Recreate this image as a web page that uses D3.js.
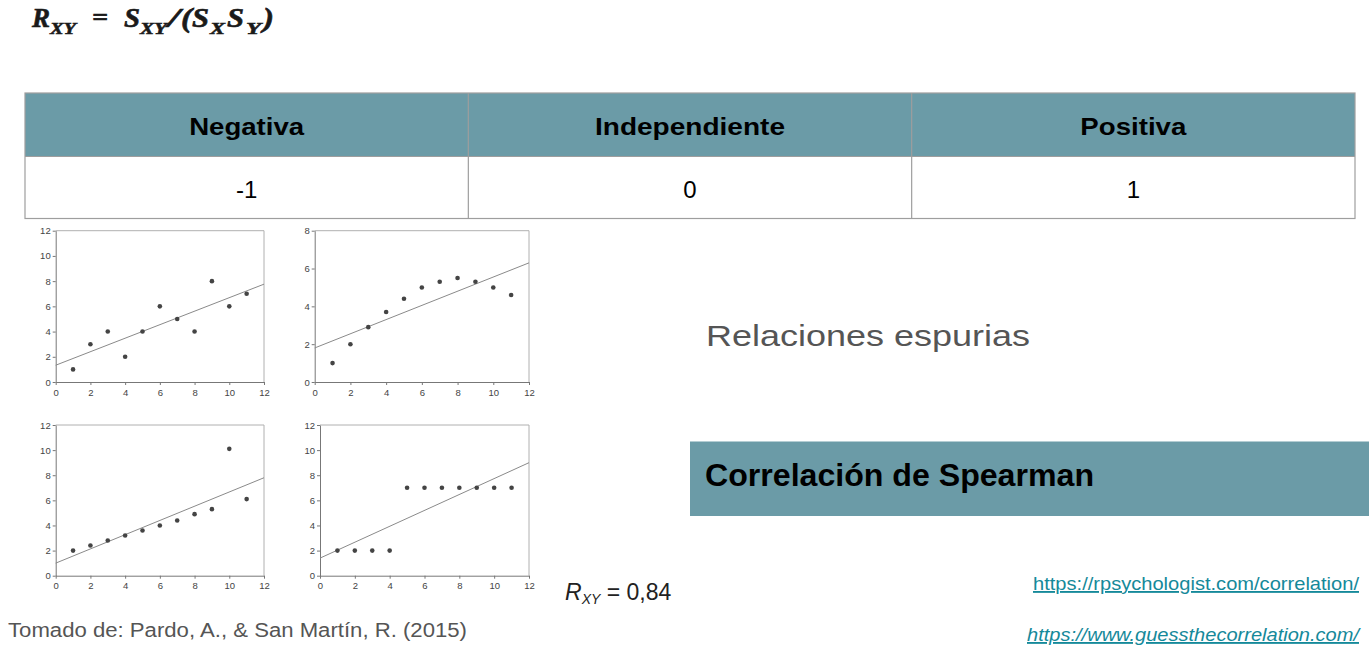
<!DOCTYPE html>
<html>
<head>
<meta charset="utf-8">
<script src="https://cdn.jsdelivr.net/npm/d3@7"></script>
<style>
  html, body { margin: 0; padding: 0; background: #fff; }
  svg { display: block; }
</style>
</head>
<body>
<svg id="chart" width="1369" height="650"></svg>
<script>
// ---------- DATA ----------
const tableHeaders = ["Negativa", "Independiente", "Positiva"];
const tableValues = ["-1", "0", "1"];

const xValues = [1, 2, 3, 4, 5, 6, 7, 8, 9, 10, 11];
const yPanel1 = [1, 3, 4, 2, 4, 6, 5, 4, 8, 6, 7];
const yPanel2 = [1, 2, 2.9, 3.7, 4.4, 5, 5.3, 5.5, 5.3, 5, 4.6];
const yPanel3 = [2, 2.4, 2.8, 3.2, 3.6, 4, 4.4, 4.9, 5.3, 10.1, 6.1];
const yPanel4 = [2, 2, 2, 2, 7, 7, 7, 7, 7, 7, 7];

// fitted line values at x = 0 and x = 12
const fitStart = [1.33, 1.8, 1.0, 1.4];
const fitEnd = [7.76, 6.3, 7.8, 9.0];

const xTicks = [0, 2, 4, 6, 8, 10, 12];
const yMax = [12, 8, 12, 12];
const yTicks12 = [0, 2, 4, 6, 8, 10, 12];
const yTicks8 = [0, 2, 4, 6, 8];

const subtitle = "Relaciones espurias";
const boxLabel = "Correlación de Spearman";
const rValue = "0,84";
const links = ["https://rpsychologist.com/correlation/", "https://www.guessthecorrelation.com/"];
const source = "Tomado de: Pardo, A., & San Martín, R. (2015)";

// ---------- DRAW ----------
const svg = d3.select("#chart");
const teal = "#6b9ba7";
const sans = "'Liberation Sans', Arial, sans-serif";
const serif = "'Liberation Serif', 'Times New Roman', serif";

// Formula
const f = svg.append("g").attr("font-family", serif).attr("font-weight", "bold")
  .attr("font-style", "italic").attr("fill", "#1a1a1a").attr("stroke", "#1a1a1a").attr("stroke-width", 0.6);
function ftxt(x, w, y, s, size) {
  f.append("text").attr("x", x).attr("y", y).attr("font-size", size)
    .attr("textLength", w).attr("lengthAdjust", "spacingAndGlyphs").text(s);
}
const fy = 27, sy = 34;
ftxt(32, 18, fy, "R", 27); ftxt(50, 26, sy, "XY", 17);
ftxt(92, 16, fy - 2, "=", 24);
ftxt(124, 16, fy, "S", 27); ftxt(140, 27, sy, "XY", 17);
ftxt(168, 12, fy, "/", 27);
ftxt(181, 11, fy, "(", 27); ftxt(192, 17, fy, "S", 27); ftxt(210, 15, sy, "X", 17);
ftxt(227, 17, fy, "S", 27); ftxt(246, 15, sy, "Y", 17);
ftxt(263, 11, fy, ")", 27);

// Table
const tLeft = 25, tRight = 1355, tTop = 93, tMid = 156.5, tBot = 218.5;
const colX = d3.scaleBand().domain(tableHeaders).range([tLeft, tRight]);
const headerWidths = [115, 190, 106];
const tg = svg.append("g");
tg.append("rect").attr("x", tLeft).attr("y", tTop).attr("width", tRight - tLeft)
  .attr("height", tMid - tTop).attr("fill", teal);
tg.append("rect").attr("x", tLeft).attr("y", tTop).attr("width", tRight - tLeft)
  .attr("height", tBot - tTop).attr("fill", "none").attr("stroke", "#9e9e9e").attr("stroke-width", 1.2);
tg.append("line").attr("x1", tLeft).attr("x2", tRight).attr("y1", tMid).attr("y2", tMid)
  .attr("stroke", "#9e9e9e").attr("stroke-width", 1.2);
tableHeaders.slice(1).forEach(h => {
  tg.append("line").attr("x1", colX(h)).attr("x2", colX(h)).attr("y1", tTop).attr("y2", tBot)
    .attr("stroke", "#9e9e9e").attr("stroke-width", 1.2);
});
tableHeaders.forEach((h, i) => {
  const cx = colX(h) + colX.bandwidth() / 2;
  tg.append("text").attr("x", cx).attr("y", 135).attr("text-anchor", "middle")
    .attr("font-family", sans).attr("font-weight", "bold").attr("font-size", 24)
    .attr("textLength", headerWidths[i]).attr("lengthAdjust", "spacingAndGlyphs")
    .attr("fill", "#000").text(h);
  tg.append("text").attr("x", cx).attr("y", 198).attr("text-anchor", "middle")
    .attr("font-family", sans).attr("font-size", 24).attr("fill", "#000").text(tableValues[i]);
});

// Scatter panels
const panels = [
  { ys: yPanel1, x0: 55.7, x1: 264, y0: 382, y1: 230.7 },
  { ys: yPanel2, x0: 314.7, x1: 529, y0: 382, y1: 230.7 },
  { ys: yPanel3, x0: 55.7, x1: 264, y0: 575.7, y1: 425 },
  { ys: yPanel4, x0: 320, x1: 529, y0: 575.7, y1: 425 }
];
panels.forEach((p, i) => {
  const g = svg.append("g");
  const x = d3.scaleLinear().domain([0, 12]).range([p.x0, p.x1]);
  const y = d3.scaleLinear().domain([0, yMax[i]]).range([p.y0, p.y1]);
  g.append("path").attr("d", `M${p.x0},${p.y1}H${p.x1}V${p.y0}`)
    .attr("fill", "none").attr("stroke", "#b0b0b0").attr("stroke-width", 1);
  const xa = g.append("g").attr("transform", `translate(0,${p.y0})`)
    .call(d3.axisBottom(x).tickValues(xTicks).tickSize(3).tickPadding(4).tickSizeOuter(0));
  const ya = g.append("g").attr("transform", `translate(${p.x0},0)`)
    .call(d3.axisLeft(y).tickValues(yMax[i] === 8 ? yTicks8 : yTicks12).tickSize(3).tickPadding(2).tickSizeOuter(0));
  [xa, ya].forEach(a => {
    a.selectAll("path,line").attr("stroke", "#777");
    a.selectAll("text").attr("font-family", sans).attr("font-size", 9.5).attr("fill", "#444");
  });
  g.append("line").attr("x1", x(0)).attr("y1", y(fitStart[i])).attr("x2", x(12)).attr("y2", y(fitEnd[i]))
    .attr("stroke", "#8a8a8a").attr("stroke-width", 1);
  g.selectAll("circle").data(xValues).join("circle")
    .attr("cx", d => x(d)).attr("cy", (d, j) => y(p.ys[j])).attr("r", 2.3).attr("fill", "#444");
});

// R_XY = 0,84
const rt = svg.append("text").attr("x", 565).attr("y", 600).attr("font-family", sans)
  .attr("font-size", 23).attr("fill", "#222");
rt.append("tspan").attr("font-style", "italic").text("R");
rt.append("tspan").attr("font-style", "italic").attr("font-size", 14).attr("dy", 4).text("XY");
rt.append("tspan").attr("dy", -4).text(" = " + rValue);

// Subtitle
svg.append("text").attr("x", 706).attr("y", 346).attr("font-family", sans).attr("font-size", 30)
  .attr("textLength", 324).attr("lengthAdjust", "spacingAndGlyphs")
  .attr("fill", "#555").text(subtitle);

// Spearman box
svg.append("rect").attr("x", 690).attr("y", 441.5).attr("width", 1369 - 690).attr("height", 74.5)
  .attr("fill", teal);
svg.append("text").attr("x", 705).attr("y", 486).attr("font-family", sans).attr("font-weight", "bold")
  .attr("font-size", 31).attr("textLength", 389).attr("lengthAdjust", "spacingAndGlyphs")
  .attr("fill", "#000").text(boxLabel);

// Links
const linkColor = "#15899a";
svg.append("text").attr("x", 1359).attr("y", 590).attr("text-anchor", "end").attr("font-family", sans)
  .attr("font-size", 18.5).attr("textLength", 326).attr("lengthAdjust", "spacingAndGlyphs")
  .attr("fill", linkColor).attr("text-decoration", "underline").text(links[0]);
svg.append("text").attr("x", 1359).attr("y", 641).attr("text-anchor", "end").attr("font-family", sans)
  .attr("font-size", 18.5).attr("font-style", "italic").attr("textLength", 332).attr("lengthAdjust", "spacingAndGlyphs")
  .attr("fill", linkColor).attr("text-decoration", "underline").text(links[1]);

// Source
svg.append("text").attr("x", 8).attr("y", 637).attr("font-family", sans).attr("font-size", 19.5)
  .attr("textLength", 459).attr("lengthAdjust", "spacingAndGlyphs")
  .attr("fill", "#555").text(source);
</script>
</body>
</html>
